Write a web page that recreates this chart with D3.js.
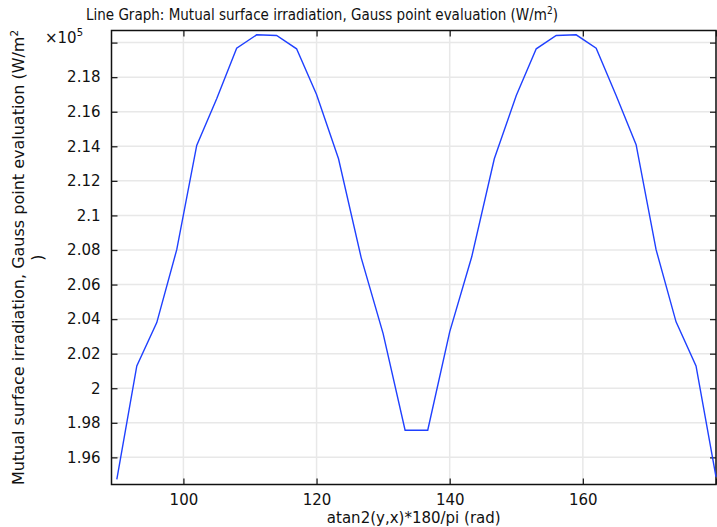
<!DOCTYPE html>
<html><head><meta charset="utf-8">
<script src="https://cdn.jsdelivr.net/npm/d3@7"></script>
<style>
html,body{margin:0;padding:0;background:#fff;}
svg{display:block;font-family:"DejaVu Sans",sans-serif;}
</style></head>
<body>
<svg id="chart" width="717" height="527"></svg>
<script>
const angles = [90, 93, 96, 99, 102, 105, 108, 111, 114, 117, 120, 123.3, 126.7, 130, 133.3, 136.7, 140, 143.3, 146.7, 150, 153, 156, 159, 162, 165, 168, 171, 174, 177, 180];
const irradiation = [1.9472, 2.0129, 2.0380, 2.0802, 2.1405, 2.1675, 2.1968, 2.2045, 2.2041, 2.1964, 2.1700, 2.1328, 2.0756, 2.0316, 1.9757, 1.9757, 2.0326, 2.0759, 2.1328, 2.1694, 2.1964, 2.2041, 2.2045, 2.1968, 2.1694, 2.1409, 2.0802, 2.0384, 2.0129, 1.9487];
const xTicks = [100, 120, 140, 160, 180];
const xTickLabels = ["100", "120", "140", "160", ""];
const yTicks = [1.96, 1.98, 2.0, 2.02, 2.04, 2.06, 2.08, 2.1, 2.12, 2.14, 2.16, 2.18, 2.2];
const yTickLabels = ["1.96", "1.98", "2", "2.02", "2.04", "2.06", "2.08", "2.1", "2.12", "2.14", "2.16", "2.18", ""];

const svg = d3.select("#chart");
const L = 111.5, R = 716, T = 30.5, B = 484.5;
const x = d3.scaleLinear().domain([89.2, 180]).range([L, R]);
const y = d3.scaleLinear().domain([1.9443, 2.2070]).range([B, T]);

// grid
const g = svg.append("g");
g.selectAll("line.vg").data(xTicks).join("line")
  .attr("x1", d => x(d)).attr("x2", d => x(d)).attr("y1", T).attr("y2", B)
  .attr("stroke", "#e8e8e8").attr("stroke-width", 1.5);
g.selectAll("line.hg").data(yTicks).join("line")
  .attr("y1", d => y(d)).attr("y2", d => y(d)).attr("x1", L).attr("x2", R)
  .attr("stroke", "#e8e8e8").attr("stroke-width", 1.5);

// axes with inward ticks
const fmtX = d => xTickLabels[xTicks.indexOf(d)];
const fmtY = d => yTickLabels[yTicks.indexOf(d)];
const axB = svg.append("g").attr("transform", `translate(0,${B})`)
  .call(d3.axisBottom(x).tickValues(xTicks).tickSizeInner(-6).tickSizeOuter(0).tickPadding(10).tickFormat(fmtX));
const axT = svg.append("g").attr("transform", `translate(0,${T})`)
  .call(d3.axisTop(x).tickValues(xTicks).tickSizeInner(-6).tickSizeOuter(0).tickFormat(""));
const axL = svg.append("g").attr("transform", `translate(${L},0)`)
  .call(d3.axisLeft(y).tickValues(yTicks).tickSizeInner(-6).tickSizeOuter(0).tickPadding(11).tickFormat(fmtY));
const axR = svg.append("g").attr("transform", `translate(${R},0)`)
  .call(d3.axisRight(y).tickValues(yTicks).tickSizeInner(-6).tickSizeOuter(0).tickFormat(""));
[axB, axT, axL, axR].forEach(a => {
  a.select(".domain").remove();
  a.selectAll(".tick line").attr("stroke", "#222").attr("stroke-width", 1.3);
  a.selectAll(".tick text").attr("fill", "#111").style("font-size", "15px").style("font-family", "DejaVu Sans");
});
// frame
svg.append("rect").attr("x", L).attr("y", T).attr("width", R - L).attr("height", B - T)
  .attr("fill", "none").attr("stroke", "#111").attr("stroke-width", 1.5);

// line
const line = d3.line().x((d, i) => x(angles[i])).y(d => y(d));
svg.append("path").datum(irradiation).attr("d", line)
  .attr("fill", "none").attr("stroke", "#1f40ff").attr("stroke-width", 1.4);

// texts
const title = svg.append("text").attr("x", 86).attr("y", 20)
  .style("font-size", "15px").style("font-family", "'DejaVu Sans Condensed','DejaVu Sans'")
  .style("font-stretch", "condensed").attr("fill", "#111");
title.append("tspan").text("Line Graph: Mutual surface irradiation, Gauss point evaluation (W/m");
title.append("tspan").text("2").attr("dy", -6).style("font-size", "10px");
title.append("tspan").text(")").attr("dy", 6);

const mult = svg.append("text").attr("x", 45).attr("y", 43).style("font-size", "15px").attr("fill", "#111");
mult.append("tspan").text("×10");
mult.append("tspan").text("5").attr("dy", -7).style("font-size", "10px");

svg.append("text").attr("x", (L + R) / 2).attr("y", 523).attr("text-anchor", "middle")
  .style("font-size", "15px").attr("fill", "#111").text("atan2(y,x)*180/pi (rad)");

const yl = svg.append("text").attr("transform", `translate(24,${(T + B) / 2}) rotate(-90)`)
  .attr("text-anchor", "middle").style("font-size", "16px").attr("fill", "#111");
const l1 = yl.append("tspan").attr("x", 0).attr("y", 0);
l1.append("tspan").text("Mutual surface irradiation, Gauss point evaluation (W/m");
l1.append("tspan").text("2").attr("dy", -6).style("font-size", "10.5px");
yl.append("tspan").attr("x", 0).attr("y", 19).text(")");
</script>
</body></html>
